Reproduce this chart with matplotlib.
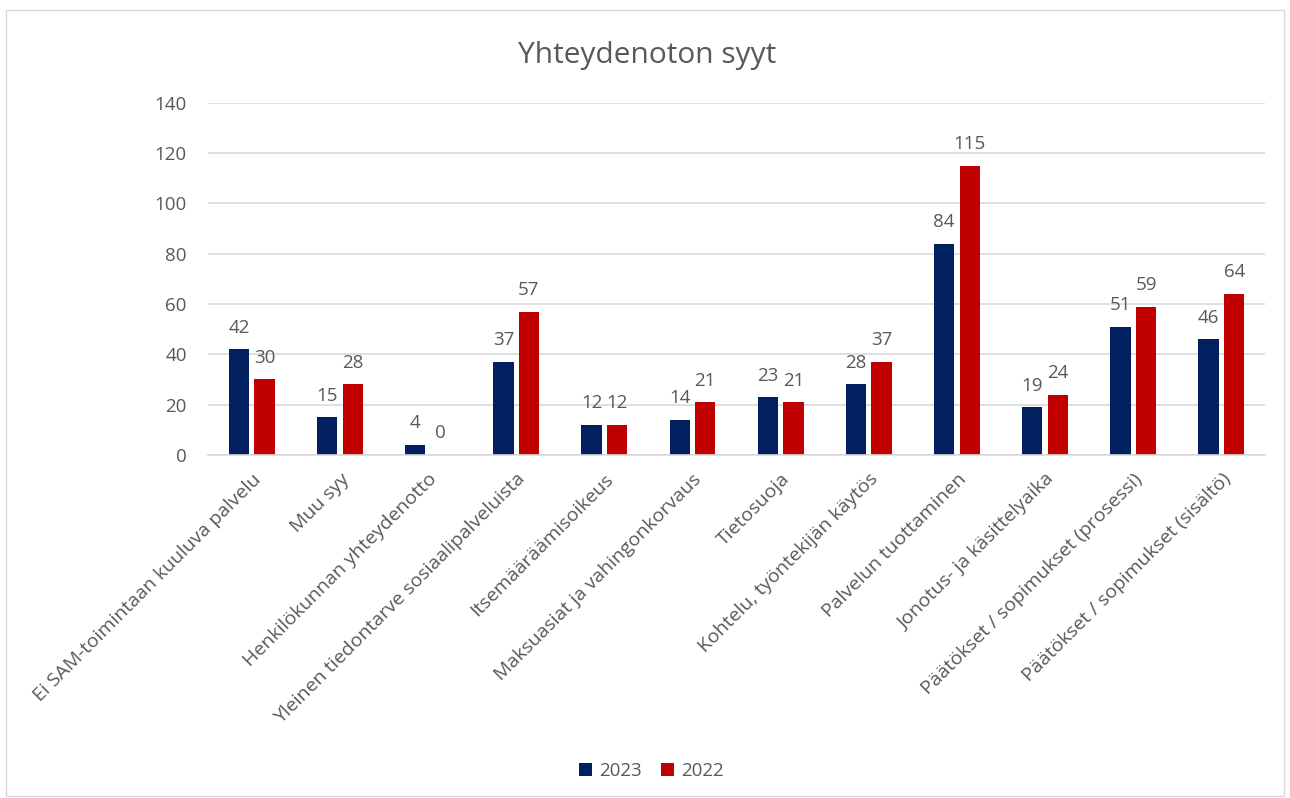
import matplotlib.pyplot as plt
import numpy as np
from matplotlib.patches import Rectangle

# Data
categories = [
    "Ei SAM-toimintaan kuuluva palvelu",
    "Muu syy",
    "Henkilökunnan yhteydenotto",
    "Yleinen tiedontarve sosiaalipalveluista",
    "Itsemääräämisoikeus",
    "Maksuasiat ja vahingonkorvaus",
    "Tietosuoja",
    "Kohtelu, työntekijän käytös",
    "Palvelun tuottaminen",
    "Jonotus- ja käsittelyaika",
    "Päätökset / sopimukset (prosessi)",
    "Päätökset / sopimukset (sisältö)",
]
values_2023 = [42, 15, 4, 37, 12, 14, 23, 28, 84, 19, 51, 46]
values_2022 = [30, 28, 0, 57, 12, 21, 21, 37, 115, 24, 59, 64]

blue = "#002060"
red = "#C00000"
text_col = "#595959"

plt.rcParams['font.family'] = ['Open Sans', 'DejaVu Sans']

fig = plt.figure(figsize=(12.9, 7.98), dpi=100)
ax = fig.add_axes([0.161, 0.430, 0.820, 0.441])

x = np.arange(len(categories))
w = 0.23
off = 0.145
b1 = ax.bar(x - off, values_2023, w, color=blue, label="2023")
b2 = ax.bar(x + off, values_2022, w, color=red, label="2022")

for bars, vals in [(b1, values_2023), (b2, values_2022)]:
    for rect, v in zip(bars, vals):
        ax.annotate(str(v), (rect.get_x() + rect.get_width() / 2, v),
                    xytext=(0, 9), textcoords="offset points",
                    ha="center", va="bottom", fontsize=13.5, color=text_col)

ax.set_ylim(0, 140)
ax.set_yticks(range(0, 141, 20))
ax.set_xlim(-0.5, len(categories) - 0.5)
ax.yaxis.grid(True, color="#D9D9D9", linewidth=1.2)
ax.set_axisbelow(True)
for s in ["top", "right", "left"]:
    ax.spines[s].set_visible(False)
ax.spines["bottom"].set_color("#D9D9D9")
ax.spines["bottom"].set_linewidth(1.2)
ax.tick_params(axis="both", length=0, labelsize=13.5, colors=text_col)
ax.tick_params(axis="y", pad=15)
ax.tick_params(axis="x", pad=11)
ax.set_xticks(x)
ax.set_xticklabels(categories, rotation=45, ha="right", rotation_mode="anchor",
                   fontsize=14)

fig.text(0.502, 0.931, "Yhteydenoton syyt", ha="center", va="center",
         fontsize=21.5, color=text_col)

fig.legend(loc="center", bbox_to_anchor=(0.505, 0.034), ncol=2, frameon=False,
           fontsize=13.5, labelcolor=text_col, handlelength=0.7, handleheight=0.7,
           handletextpad=0.4, columnspacing=1.0)

fig.patches.append(Rectangle((0.005, 0.002), 0.99, 0.985, transform=fig.transFigure,
                             fill=False, edgecolor="#D9D9D9", linewidth=1))

fig.savefig("out.png", dpi=100)
